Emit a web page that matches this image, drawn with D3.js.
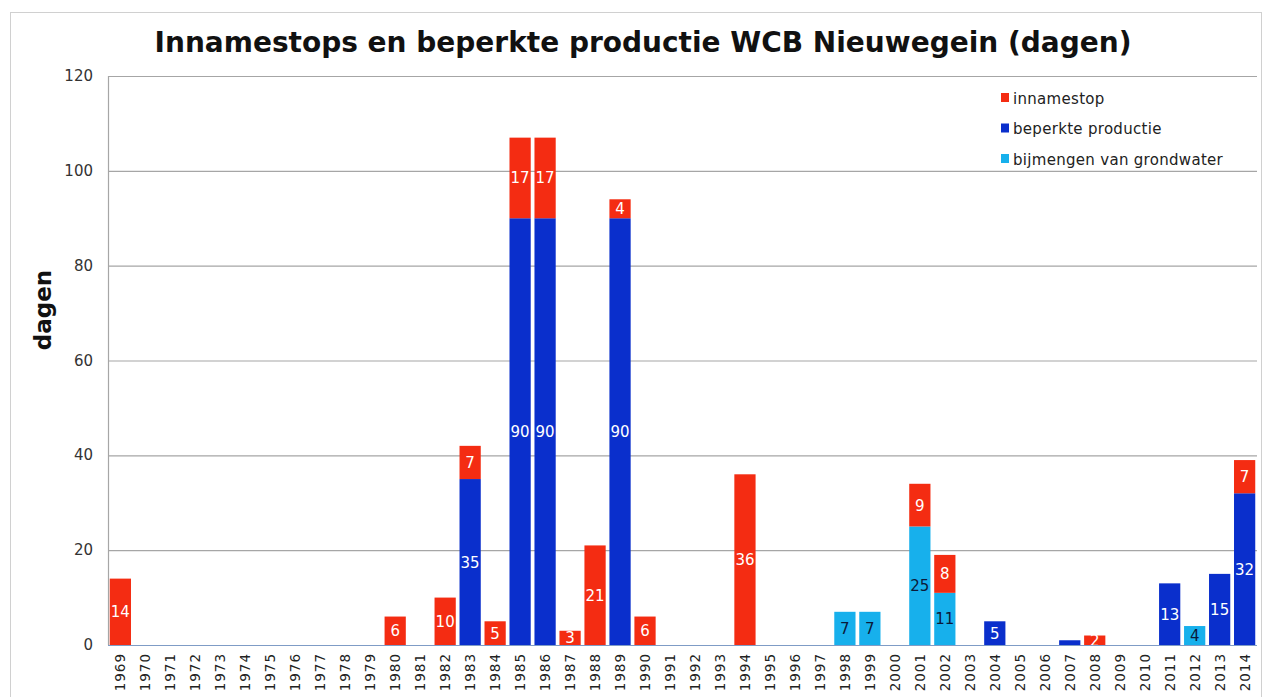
<!DOCTYPE html>
<html>
<head>
<meta charset="utf-8">
<script src="https://cdn.jsdelivr.net/npm/d3@7"></script>
<style>
  body { margin: 0; background: #fff; }
  svg { display: block; font-family: "DejaVu Sans", Verdana, sans-serif; }
</style>
</head>
<body>
<div class="canvas"></div>
<script>
const
    width = 1263,
    height = 697,
    margin = {top: 76, right: 6, bottom: 52, left: 108};

// years on the x axis
const years = d3.range(1969, 2015).map(String);

// values per series, by year (missing = 0)
const innamestop = {
    "1969": 14, "1980": 6, "1982": 10, "1983": 7, "1984": 5, "1985": 17, "1986": 17,
    "1987": 3, "1988": 21, "1989": 4, "1990": 6, "1994": 36, "2001": 9, "2002": 8,
    "2008": 2, "2014": 7
};
const beperkteProductie = {
    "1983": 35, "1985": 90, "1986": 90, "1989": 90, "2004": 5, "2007": 1,
    "2011": 13, "2013": 15, "2014": 32
};
const bijmengen = {
    "1998": 7, "1999": 7, "2001": 25, "2002": 11, "2012": 4
};
const yTicks = [0, 20, 40, 60, 80, 100, 120];

// bottom to top stacking order
const series = [
    {key: "bijmengen", label: "bijmengen van grondwater", values: bijmengen, color: "#17b0ec", text: "#0b1a3a"},
    {key: "beperkte", label: "beperkte productie", values: beperkteProductie, color: "#0a2fcc", text: "#fff"},
    {key: "innamestop", label: "innamestop", values: innamestop, color: "#f42c12", text: "#fff"}
];

const table = years.map(y => {
    const row = {year: y};
    series.forEach(s => row[s.key] = s.values[y] || 0);
    return row;
});

const stack = d3.stack().keys(series.map(s => s.key))(table);

const svg = d3.select('.canvas').append("svg")
    .attr('width', width)
    .attr('height', height);

// outer frame
svg.append("rect")
    .attr("x", 10.5).attr("y", 12.5)
    .attr("width", width - 12).attr("height", height)
    .attr("fill", "none").attr("stroke", "#d0d0d0");

const x = d3.scaleBand()
    .domain(years)
    .range([margin.left, width - margin.right])
    .paddingInner(0.15)
    .paddingOuter(0.07);
const y = d3.scaleLinear()
    .domain([0, 120])
    .range([height - margin.bottom, margin.top]);

// gridlines
svg.append("g")
    .selectAll("line")
    .data(yTicks.filter(d => d > 0))
    .enter().append("line")
    .attr("x1", margin.left).attr("x2", width - margin.right)
    .attr("y1", d => y(d) + 0.5).attr("y2", d => y(d) + 0.5)
    .attr("stroke", "#a6a6a6").attr("stroke-width", 1.2);

// left axis line
svg.append("line")
    .attr("x1", margin.left + 0.5).attr("x2", margin.left + 0.5)
    .attr("y1", y(120)).attr("y2", y(0))
    .attr("stroke", "#a6a6a6").attr("stroke-width", 1.2);

// y tick labels
svg.append("g")
    .selectAll("text")
    .data(yTicks)
    .enter().append("text")
    .attr("x", 93).attr("y", d => y(d) + 5)
    .attr("text-anchor", "end")
    .attr("font-size", 15)
    .attr("fill", "#333")
    .text(d => d);

// bars
const layers = svg.append("g")
    .selectAll("g")
    .data(stack)
    .enter().append("g")
    .attr("fill", (d, i) => series[i].color);

layers.selectAll("rect")
    .data(d => d)
    .enter().append("rect")
    .attr("x", d => x(d.data.year))
    .attr("width", x.bandwidth())
    .attr("y", d => y(d[1]))
    .attr("height", d => y(d[0]) - y(d[1]));

// value labels
layers.each(function(layer, i) {
    d3.select(this).selectAll("text")
        .data(layer.filter(d => d[1] - d[0] >= 2))
        .enter().append("text")
        .attr("x", d => x(d.data.year) + x.bandwidth() / 2)
        .attr("y", d => (y(d[0]) + y(d[1])) / 2 + 5.5)
        .attr("text-anchor", "middle")
        .attr("font-size", 15)
        .attr("fill", series[i].text)
        .text(d => d[1] - d[0]);
});

// zero line
svg.append("line")
    .attr("x1", margin.left).attr("x2", width - margin.right)
    .attr("y1", y(0) + 0.5).attr("y2", y(0) + 0.5)
    .attr("stroke", "#7f9cc6").attr("stroke-width", 1.2);

// x tick labels
svg.append("g")
    .selectAll("text")
    .data(years)
    .enter().append("text")
    .attr("transform", d => `translate(${x(d) + x.bandwidth() / 2 + 5},${y(0) + 8}) rotate(-90)`)
    .attr("text-anchor", "end")
    .attr("font-size", 13.5)
    .attr("letter-spacing", 1)
    .attr("fill", "#222")
    .text(d => d);

// title
svg.append("text")
    .attr("x", 643).attr("y", 52)
    .attr("text-anchor", "middle")
    .attr("font-size", 28)
    .attr("font-weight", "bold")
    .attr("fill", "#111")
    .text("Innamestops en beperkte productie WCB Nieuwegein (dagen)");

// y axis title
svg.append("text")
    .attr("transform", "translate(51,310) rotate(-90)")
    .attr("text-anchor", "middle")
    .attr("font-size", 23)
    .attr("font-weight", "bold")
    .attr("fill", "#111")
    .text("dagen");

// legend
const legend = svg.append("g")
    .selectAll("g")
    .data(series.slice().reverse())
    .enter().append("g")
    .attr("transform", (d, i) => `translate(1001,${98 + i * 30.5})`);
legend.append("rect")
    .attr("x", 0).attr("y", -5)
    .attr("width", 8).attr("height", 9)
    .attr("fill", d => d.color);
legend.append("text")
    .attr("x", 12).attr("y", 5.5)
    .attr("font-size", 15)
    .attr("letter-spacing", 0.3)
    .attr("fill", "#222")
    .text(d => d.label);
</script>
</body>
</html>
